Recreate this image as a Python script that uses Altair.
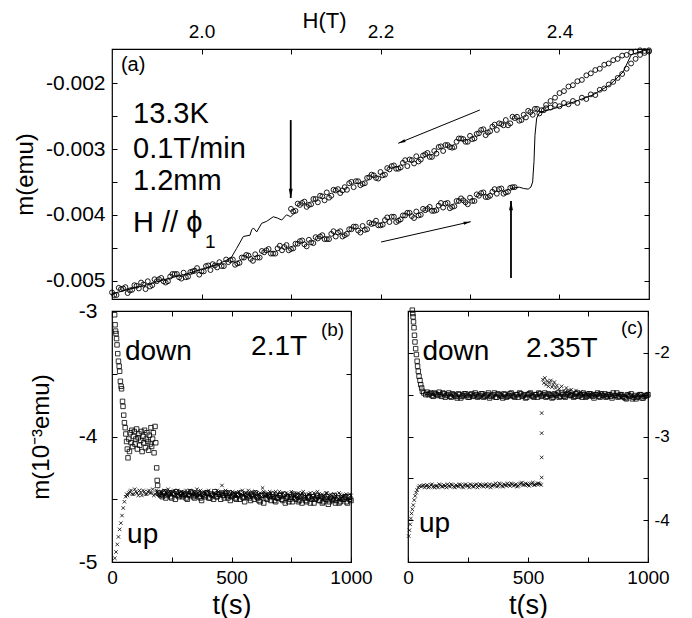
import altair as alt
import pandas as pd

FONT = "Liberation Sans"

# ---------------- panel (a): m(emu) vs H(T) ----------------
a_up1_H = [1.900, 1.905, 1.910, 1.915, 1.920, 1.925, 1.930, 1.935, 1.940, 1.945,
           1.950, 1.955, 1.960, 1.965, 1.970, 1.975, 1.980, 1.985, 1.990, 1.995,
           2.000, 2.005, 2.010, 2.015, 2.020, 2.025, 2.030, 2.035, 2.040, 2.045,
           2.050, 2.055, 2.060, 2.065, 2.070, 2.075, 2.080, 2.085, 2.090, 2.095,
           2.100, 2.105, 2.110, 2.115, 2.120, 2.125, 2.130, 2.135, 2.140, 2.145,
           2.150, 2.155, 2.160, 2.165, 2.170, 2.175, 2.180, 2.185, 2.190, 2.195,
           2.200, 2.205, 2.210, 2.215, 2.220, 2.225, 2.230, 2.235, 2.240, 2.245,
           2.250, 2.255, 2.260, 2.265, 2.270, 2.275, 2.280, 2.285, 2.290, 2.295,
           2.300, 2.305, 2.310, 2.315, 2.320, 2.325, 2.330, 2.335, 2.340, 2.345,
           2.350]
a_up1_m = [-0.00518, -0.00522, -0.00513, -0.00510, -0.00515, -0.00507, -0.00512, -0.00506, -0.00501, -0.00507,
           -0.00501, -0.00496, -0.00503, -0.00494, -0.00490, -0.00495, -0.00488, -0.00494, -0.00486, -0.00481,
           -0.00486, -0.00478, -0.00484, -0.00477, -0.00472, -0.00478, -0.00472, -0.00468, -0.00474, -0.00465,
           -0.00461, -0.00467, -0.00460, -0.00465, -0.00457, -0.00452, -0.00459, -0.00451, -0.00454, -0.00446,
           -0.00452, -0.00444, -0.00440, -0.00445, -0.00438, -0.00443, -0.00436, -0.00431, -0.00437, -0.00429,
           -0.00433, -0.00425, -0.00431, -0.00422, -0.00418, -0.00424, -0.00417, -0.00422, -0.00414, -0.00409,
           -0.00416, -0.00408, -0.00411, -0.00403, -0.00409, -0.00401, -0.00397, -0.00402, -0.00395, -0.00400,
           -0.00393, -0.00388, -0.00394, -0.00386, -0.00389, -0.00382, -0.00388, -0.00379, -0.00375, -0.00381,
           -0.00374, -0.00379, -0.00371, -0.00366, -0.00373, -0.00365, -0.00368, -0.00360, -0.00366, -0.00359,
           -0.00358]
a_up2_H = [1.9025, 1.9125, 1.9225, 1.9325, 1.9425, 1.9525, 1.9625, 1.9725, 1.9825, 1.9925,
           2.0025, 2.0125, 2.0225, 2.0325, 2.0425, 2.0525, 2.0625, 2.0725, 2.0825, 2.0925,
           2.1025, 2.1125, 2.1225, 2.1325, 2.1425, 2.1525, 2.1625, 2.1725, 2.1825, 2.1925,
           2.2025, 2.2125, 2.2225, 2.2325, 2.2425, 2.2525, 2.2625, 2.2725, 2.2825, 2.2925,
           2.3025, 2.3125, 2.3225, 2.3325, 2.3425]
a_up2_m = [-0.00522, -0.00512, -0.00514, -0.00503, -0.00509, -0.00498, -0.00501, -0.00490, -0.00495, -0.00485,
           -0.00486, -0.00475, -0.00478, -0.00469, -0.00473, -0.00462, -0.00465, -0.00454, -0.00459, -0.00449,
           -0.00451, -0.00439, -0.00442, -0.00433, -0.00437, -0.00427, -0.00429, -0.00418, -0.00423, -0.00413,
           -0.00415, -0.00403, -0.00407, -0.00397, -0.00401, -0.00391, -0.00393, -0.00383, -0.00387, -0.00378,
           -0.00379, -0.00367, -0.00371, -0.00361, -0.00365]
a_up3_H = [1.9075, 1.9175, 1.9275, 1.9375, 1.9475, 1.9575, 1.9675, 1.9775, 1.9875, 1.9975,
           2.0075, 2.0175, 2.0275, 2.0375, 2.0475, 2.0575, 2.0675, 2.0775, 2.0875, 2.0975,
           2.1075, 2.1175, 2.1275, 2.1375, 2.1475, 2.1575, 2.1675, 2.1775, 2.1875, 2.1975,
           2.2075, 2.2175, 2.2275, 2.2375, 2.2475, 2.2575, 2.2675, 2.2775, 2.2875, 2.2975,
           2.3075, 2.3175, 2.3275, 2.3375, 2.3475]
a_up3_m = [-0.00511, -0.00519, -0.00508, -0.00513, -0.00498, -0.00501, -0.00490, -0.00497, -0.00487, -0.00491,
           -0.00477, -0.00480, -0.00468, -0.00476, -0.00465, -0.00470, -0.00455, -0.00459, -0.00447, -0.00454,
           -0.00444, -0.00448, -0.00434, -0.00437, -0.00425, -0.00433, -0.00422, -0.00427, -0.00412, -0.00416,
           -0.00404, -0.00411, -0.00401, -0.00405, -0.00391, -0.00394, -0.00382, -0.00390, -0.00379, -0.00384,
           -0.00369, -0.00373, -0.00361, -0.00368, -0.00358]
a_dn1_H = [2.100, 2.105, 2.110, 2.115, 2.120, 2.125, 2.130, 2.135, 2.140, 2.145,
           2.150, 2.155, 2.160, 2.165, 2.170, 2.175, 2.180, 2.185, 2.190, 2.195,
           2.200, 2.205, 2.210, 2.215, 2.220, 2.225, 2.230, 2.235, 2.240, 2.245,
           2.250, 2.255, 2.260, 2.265, 2.270, 2.275, 2.280, 2.285, 2.290, 2.295,
           2.300, 2.305, 2.310, 2.315, 2.320, 2.325, 2.330, 2.335, 2.340, 2.345,
           2.350, 2.355, 2.360, 2.365, 2.370, 2.375, 2.380,
           2.385, 2.390, 2.395, 2.400, 2.405, 2.410, 2.415, 2.420, 2.425, 2.430,
           2.435, 2.440, 2.445, 2.450, 2.455, 2.460, 2.465, 2.470, 2.475, 2.480,
           2.485, 2.490, 2.495, 2.500]
a_dn1_m = [-0.00391, -0.00394, -0.00385, -0.00380, -0.00385, -0.00376, -0.00381, -0.00372, -0.00366, -0.00371,
           -0.00363, -0.00367, -0.00358, -0.00352, -0.00358, -0.00349, -0.00353, -0.00344, -0.00339, -0.00344,
           -0.00335, -0.00339, -0.00331, -0.00325, -0.00330, -0.00321, -0.00326, -0.00317, -0.00311, -0.00316,
           -0.00308, -0.00312, -0.00303, -0.00297, -0.00303, -0.00294, -0.00298, -0.00289, -0.00284, -0.00289,
           -0.00280, -0.00284, -0.00276, -0.00270, -0.00275, -0.00266, -0.00271, -0.00262, -0.00256, -0.00261,
           -0.00253, -0.00257, -0.00248, -0.00242, -0.00248, -0.00239, -0.00241,
           -0.00233, -0.00227, -0.00222, -0.00215, -0.00212, -0.00205, -0.00203, -0.00197, -0.00195, -0.00188,
           -0.00185, -0.00180, -0.00178, -0.00172, -0.00170, -0.00165, -0.00163, -0.00158, -0.00157, -0.00153,
           -0.00152, -0.00150, -0.00151, -0.00150]
a_dn2_H = [2.1025, 2.1125, 2.1225, 2.1325, 2.1425, 2.1525, 2.1625, 2.1725, 2.1825, 2.1925,
           2.2025, 2.2125, 2.2225, 2.2325, 2.2425, 2.2525, 2.2625, 2.2725, 2.2825, 2.2925,
           2.3025, 2.3125, 2.3225, 2.3325, 2.3425, 2.3525, 2.3625, 2.3725, 2.3825,
           2.385, 2.390, 2.395, 2.400, 2.405, 2.410, 2.415, 2.420, 2.425, 2.430,
           2.435, 2.440, 2.445, 2.450, 2.455, 2.460, 2.465, 2.470, 2.475, 2.480,
           2.485, 2.490, 2.495, 2.500]
a_dn2_m = [-0.00395, -0.00382, -0.00384, -0.00371, -0.00374, -0.00361, -0.00362, -0.00349, -0.00352, -0.00340,
           -0.00340, -0.00326, -0.00328, -0.00316, -0.00319, -0.00306, -0.00307, -0.00294, -0.00297, -0.00285,
           -0.00285, -0.00271, -0.00273, -0.00261, -0.00264, -0.00251, -0.00252, -0.00239, -0.00241,
           -0.00238, -0.00237, -0.00233, -0.00235, -0.00230, -0.00232, -0.00227, -0.00230, -0.00222, -0.00224,
           -0.00217, -0.00218, -0.00210, -0.00208, -0.00202, -0.00198, -0.00192, -0.00186, -0.00178, -0.00170,
           -0.00163, -0.00157, -0.00154, -0.00152]
a_dn3_H = [2.1075, 2.1175, 2.1275, 2.1375, 2.1475, 2.1575, 2.1675, 2.1775, 2.1875, 2.1975,
           2.2075, 2.2175, 2.2275, 2.2375, 2.2475, 2.2575, 2.2675, 2.2775, 2.2875, 2.2975,
           2.3075, 2.3175, 2.3275, 2.3375, 2.3475, 2.3575, 2.3675, 2.3775]
a_dn3_m = [-0.00383, -0.00388, -0.00376, -0.00378, -0.00362, -0.00363, -0.00350, -0.00355, -0.00343, -0.00345,
           -0.00329, -0.00330, -0.00317, -0.00322, -0.00310, -0.00312, -0.00296, -0.00297, -0.00284, -0.00289,
           -0.00277, -0.00279, -0.00263, -0.00264, -0.00251, -0.00256, -0.00244, -0.00246]
a_lndn_H = [2.105, 2.0996, 2.095, 2.0896, 2.085, 2.0802, 2.0728, 2.0672, 2.0617, 2.058, 2.056, 2.0542,
            2.0467, 2.0393, 2.0337, 2.0282, 2.02, 2.00, 1.98, 1.96, 1.94, 1.92, 1.90]
a_lndn_m = [-0.00396, -0.00403, -0.00400, -0.00408, -0.00405, -0.00403, -0.00410, -0.00413, -0.00426, -0.00420,
            -0.00423, -0.00431, -0.00433, -0.00451, -0.00464, -0.00469, -0.00474, -0.00483, -0.00491, -0.00498,
            -0.00506, -0.00513, -0.00520]
a_lnup_H = [2.345, 2.350, 2.355, 2.360, 2.365, 2.368, 2.370, 2.3715, 2.3726, 2.3745, 2.378, 2.390, 2.400,
            2.417, 2.437, 2.456, 2.471, 2.480, 2.494, 2.500]
a_lnup_m = [-0.00360, -0.00359, -0.00358, -0.00360, -0.00361, -0.00358, -0.00350, -0.00319, -0.00279, -0.00253,
            -0.00244, -0.00240, -0.00236, -0.00228, -0.00218, -0.00203, -0.00183, -0.00157, -0.00150, -0.00149]
arr_H1 = [2.0997, 2.3458, 2.311, 2.2006]
arr_m1 = [-0.00256, -0.00496, -0.002407, -0.004414]
arr_H2 = [2.0997, 2.3458, 2.2199, 2.3008]
arr_m2 = [-0.003745, -0.00379, -0.002913, -0.004105]
arr_angle = [180, 0, 248, 77]
a_txt = ["(a)", "13.3K", "0.1T/min", "1.2mm", "H // \u03d5", "1"]
a_txt_H = [1.910, 1.9235, 1.9235, 1.9235, 1.9235, 2.0039]
a_txt_m = [-0.00182, -0.002609, -0.003142, -0.003623, -0.004257, -0.00451]
a_txt_fs = [20, 29, 29, 29, 29, 19]
a_xticks = [2.0, 2.1, 2.2, 2.3, 2.4]
a_yticks = [-0.005, -0.0045, -0.004, -0.0035, -0.003, -0.0025, -0.002]

# ---------------- panel (b): 2.1T ----------------
b_up_t = [12, 17, 22, 27, 32, 37, 42, 47, 52, 57, 62,
          70, 80, 90, 100, 110, 120, 130, 140, 150, 160, 170, 180, 190, 200, 210, 220, 230, 240, 250,
          260, 270, 280, 290, 300, 310, 320, 330, 340, 350, 360, 370, 380, 390, 400, 410, 420, 430, 440,
          450, 460, 470, 480, 490, 500, 510, 520, 530, 540, 550, 560, 570, 580, 590, 600, 610, 620, 630,
          640, 650, 660, 670, 680, 690, 700, 710, 720, 730, 740, 750, 760, 770, 780, 790, 800, 810, 820,
          830, 840, 850, 860, 870, 880, 890, 900, 910, 920, 930, 940, 950, 960, 970, 980, 990, 1000]
b_up_m = [-4.97, -4.92, -4.86, -4.80, -4.74, -4.69, -4.63, -4.57, -4.52, -4.48, -4.46,
          -4.45, -4.43, -4.46, -4.44, -4.47, -4.45, -4.43, -4.46, -4.44, -4.45, -4.42, -4.46, -4.44, -4.47,
          -4.45, -4.43, -4.46, -4.44, -4.46, -4.43, -4.47, -4.45, -4.44, -4.46, -4.43, -4.45, -4.47, -4.44,
          -4.46, -4.45, -4.43, -4.47, -4.45, -4.44, -4.46, -4.48, -4.45, -4.43, -4.46, -4.39, -4.45, -4.47,
          -4.44, -4.46, -4.45, -4.48, -4.44, -4.46, -4.47, -4.45, -4.43, -4.47, -4.46, -4.44, -4.48, -4.45,
          -4.41, -4.47, -4.46, -4.44, -4.48, -4.45, -4.47, -4.44, -4.46, -4.48, -4.45, -4.47, -4.44, -4.46,
          -4.49, -4.45, -4.47, -4.44, -4.48, -4.46, -4.45, -4.49, -4.47, -4.44, -4.48, -4.46, -4.49, -4.45,
          -4.47, -4.50, -4.46, -4.48, -4.45, -4.49, -4.47, -4.46, -4.49, -4.47]
b_up2_t = [65, 75, 85, 95, 105, 115, 125, 135, 145, 155, 165, 175, 185, 195, 205, 215, 225, 235, 245, 255,
           265, 275, 285, 295, 305, 315, 325, 335, 345, 355, 365, 375, 385, 395, 405, 415, 425, 435, 445, 455,
           465, 475, 485, 495, 505, 515, 525, 535, 545, 555, 565, 575, 585, 595, 605, 615, 625, 635, 645, 655,
           665, 675, 685, 695, 705, 715, 725, 735, 745, 755, 765, 775, 785, 795, 805, 815, 825, 835, 845, 855,
           865, 875, 885, 895, 905, 915, 925, 935, 945, 955, 965, 975, 985, 995]
b_up2_m = [-4.47, -4.44, -4.46, -4.42, -4.45, -4.43, -4.47, -4.44, -4.46, -4.43,
           -4.45, -4.47, -4.43, -4.46, -4.44, -4.47, -4.45, -4.42, -4.46, -4.44,
           -4.46, -4.43, -4.47, -4.45, -4.44, -4.47, -4.43, -4.46, -4.45, -4.42,
           -4.47, -4.45, -4.44, -4.46, -4.43, -4.47, -4.45, -4.46, -4.44, -4.47,
           -4.45, -4.43, -4.46, -4.48, -4.44, -4.46, -4.45, -4.47, -4.43, -4.46,
           -4.48, -4.45, -4.44, -4.47, -4.45, -4.46, -4.48, -4.44, -4.46, -4.47,
           -4.45, -4.48, -4.44, -4.46, -4.49, -4.45, -4.47, -4.46, -4.48, -4.45,
           -4.47, -4.46, -4.49, -4.45, -4.47, -4.48, -4.46, -4.47, -4.45, -4.49,
           -4.46, -4.48, -4.47, -4.45, -4.49, -4.46, -4.48, -4.47, -4.50, -4.46,
           -4.48, -4.47, -4.50, -4.46]
b_dn_t = [11, 13, 15, 17, 19, 21, 24, 27, 30, 32, 35, 38, 40, 44, 46, 49, 52, 55, 58, 61, 64, 67,
          70, 73, 76, 80, 83, 86, 90, 93, 96, 100, 103, 106, 110, 113, 116, 120, 123, 126, 130, 133, 136,
          140, 143, 146, 150, 153, 156, 160, 163, 166, 170, 173, 176, 180, 183,
          187, 189, 191, 195,
          200, 210, 220, 230, 240, 250, 260, 270, 280, 290, 300, 310, 320, 330, 340, 350, 360, 370, 380,
          390, 400, 410, 420, 430, 440, 450, 460, 470, 480, 490, 500, 510, 520, 530, 540, 550, 560, 570,
          580, 590, 600, 610, 620, 630, 640, 650, 660, 670, 680, 690, 700, 710, 720, 730, 740, 750, 760,
          770, 780, 790, 800, 810, 820, 830, 840, 850, 860, 870, 880, 890, 900, 910, 920, 930, 940, 950,
          960, 970, 980, 990, 1000]
b_dn_m = [-3.03, -3.11, -3.16, -3.18, -3.22, -3.27, -3.34, -3.40, -3.44, -3.48, -3.56, -3.60, -3.62, -3.72,
          -3.76, -3.83, -3.89, -3.93, -3.98, -4.04, -4.10, -4.17,
          -4.02, -4.12, -3.97, -4.05, -3.95, -4.08, -4.00, -3.96, -4.06, -4.02, -3.94, -4.10, -4.01, -3.98,
          -4.07, -4.03, -3.96, -4.12, -4.00, -4.05, -3.95, -4.09, -4.02, -3.97, -4.04, -4.11, -3.99, -4.06,
          -3.93, -4.08, -4.02, -3.97, -4.13, -3.92, -4.05,
          -4.25, -4.35, -4.39, -4.45,
          -4.46, -4.48, -4.44, -4.47, -4.45, -4.49, -4.46, -4.44, -4.48, -4.46, -4.47, -4.49, -4.46, -4.44,
          -4.48, -4.47, -4.45, -4.49, -4.46, -4.48, -4.45, -4.49, -4.47, -4.44, -4.48, -4.46, -4.45, -4.49,
          -4.47, -4.45, -4.48, -4.46, -4.50, -4.47, -4.45, -4.49, -4.46, -4.48, -4.51, -4.47, -4.45, -4.49,
          -4.52, -4.47, -4.46, -4.50, -4.48, -4.46, -4.51, -4.49, -4.47, -4.50, -4.46, -4.49, -4.52, -4.48,
          -4.46, -4.50, -4.52, -4.48, -4.47, -4.51, -4.49, -4.53, -4.48, -4.50, -4.47, -4.51, -4.53, -4.49,
          -4.48, -4.52, -4.50, -4.47, -4.51, -4.53, -4.49, -4.50, -4.52, -4.48, -4.51]
b_dn2_t = [205, 215, 225, 235, 245, 255, 265, 275, 285, 295, 305, 315, 325, 335, 345, 355, 365, 375, 385, 395,
           405, 415, 425, 435, 445, 455, 465, 475, 485, 495, 505, 515, 525, 535, 545, 555, 565, 575, 585, 595,
           605, 615, 625, 635, 645, 655, 665, 675, 685, 695, 705, 715, 725, 735, 745, 755, 765, 775, 785, 795,
           805, 815, 825, 835, 845, 855, 865, 875, 885, 895, 905, 915, 925, 935, 945, 955, 965, 975, 985, 995]
b_dn2_m = [-4.47, -4.45, -4.49, -4.46, -4.48, -4.45, -4.50, -4.47, -4.45, -4.48,
           -4.46, -4.50, -4.47, -4.45, -4.49, -4.46, -4.48, -4.51, -4.47, -4.45,
           -4.49, -4.46, -4.50, -4.48, -4.46, -4.50, -4.47, -4.45, -4.49, -4.51,
           -4.47, -4.49, -4.46, -4.50, -4.48, -4.52, -4.47, -4.49, -4.46, -4.50,
           -4.48, -4.51, -4.47, -4.53, -4.49, -4.47, -4.51, -4.48, -4.52, -4.49,
           -4.47, -4.51, -4.53, -4.48, -4.50, -4.52, -4.49, -4.47, -4.51, -4.53,
           -4.49, -4.52, -4.48, -4.50, -4.53, -4.49, -4.51, -4.48, -4.52, -4.50,
           -4.54, -4.49, -4.51, -4.53, -4.49, -4.52, -4.50, -4.48, -4.53, -4.50]
b_txt = ["down", "2.1T", "(b)", "up"]
b_txt_t = [54, 582, 874, 63]
b_txt_m = [-3.39, -3.35, -3.197, -4.85]
b_txt_fs = [28, 28, 19, 28]
b_yticks = [-5, -4.5, -4, -3.5, -3]

# ---------------- panel (c): 2.35T ----------------
c_up_t = [3, 6, 9, 12, 15, 18, 22, 26, 30, 34, 38, 43, 48,
          55, 65, 75, 85, 95, 105, 115, 125, 135, 145, 155, 165, 175, 185, 195, 205, 215, 225, 235, 245,
          255, 265, 275, 285, 295, 305, 315, 325, 335, 345, 355, 365, 375, 385, 395, 405, 415, 425, 435,
          445, 455, 465, 475, 485, 495, 505, 515, 525, 535, 545, 555,
          557, 557, 557, 557,
          562, 566, 570, 575, 580, 585, 590, 595, 600, 605, 610, 615, 620, 630, 640, 650, 660, 670, 680,
          690, 700, 710, 720, 730, 740, 750, 760, 780, 800, 820, 840, 860, 880, 900, 920, 940, 960, 980, 1000]
c_up_m = [-4.19, -4.12, -4.05, -3.98, -3.92, -3.87, -3.82, -3.76, -3.71, -3.67, -3.64, -3.61, -3.59,
          -3.60, -3.58, -3.59, -3.61, -3.58, -3.60, -3.59, -3.61, -3.58, -3.60, -3.59, -3.57, -3.60, -3.58,
          -3.61, -3.59, -3.57, -3.60, -3.58, -3.59, -3.61, -3.58, -3.60, -3.57, -3.59, -3.58, -3.60, -3.57,
          -3.59, -3.61, -3.58, -3.56, -3.59, -3.57, -3.60, -3.58, -3.56, -3.59, -3.57, -3.58, -3.60, -3.57,
          -3.55, -3.58, -3.57, -3.59, -3.56, -3.58, -3.57, -3.56, -3.58,
          -3.49, -3.25, -2.96, -2.72,
          -2.32, -2.36, -2.30, -2.38, -2.34, -2.40, -2.36, -2.33, -2.41, -2.38, -2.35, -2.42, -2.39, -2.43,
          -2.40, -2.45, -2.42, -2.46, -2.44, -2.47, -2.45, -2.49, -2.47, -2.50, -2.48, -2.51, -2.49, -2.50,
          -2.48, -2.51, -2.49, -2.52, -2.50, -2.51, -2.49, -2.52, -2.50, -2.51, -2.49]
c_up2_t = [60, 70, 80, 90, 100, 110, 120, 130, 140, 150, 160, 170, 180, 190, 200, 210, 220, 230, 240, 250,
           260, 270, 280, 290, 300, 310, 320, 330, 340, 350, 360, 370, 380, 390, 400, 410, 420, 430, 440, 450,
           460, 470, 480, 490, 500, 510, 520, 530, 540, 550]
c_up2_m = [-3.59, -3.61, -3.58, -3.60, -3.57, -3.61, -3.59, -3.57, -3.60, -3.58,
           -3.61, -3.59, -3.57, -3.60, -3.58, -3.60, -3.58, -3.61, -3.57, -3.59,
           -3.57, -3.60, -3.58, -3.61, -3.57, -3.59, -3.58, -3.60, -3.57, -3.59,
           -3.58, -3.60, -3.56, -3.59, -3.57, -3.59, -3.58, -3.56, -3.59, -3.57,
           -3.59, -3.56, -3.58, -3.56, -3.58, -3.57, -3.55, -3.58, -3.56, -3.57]
c_dn_t = [18, 20, 21, 23, 25, 27, 29, 32, 35, 38, 40, 43, 46, 50, 53, 57, 60, 66, 74,
          80, 90, 100, 110, 120, 130, 140, 150, 160, 170, 180, 190, 200, 210, 220, 230, 240, 250, 260,
          270, 280, 290, 300, 310, 320, 330, 340, 350, 360, 370, 380, 390, 400, 410, 420, 430, 440, 450,
          460, 470, 480, 490, 500, 510, 520, 530, 540, 550, 560, 570, 580, 590, 600, 610, 620, 630, 640,
          650, 660, 670, 680, 690, 700, 710, 720, 730, 740, 750, 760, 770, 780, 790, 800, 810, 820, 830,
          840, 850, 860, 870, 880, 890, 900, 910, 920, 930, 940, 950, 960, 970, 980, 990, 1000]
c_dn_m = [-1.49, -1.53, -1.57, -1.63, -1.70, -1.79, -1.87, -1.95, -2.02, -2.10, -2.16, -2.22, -2.28, -2.33,
          -2.38, -2.42, -2.46, -2.48, -2.50,
          -2.47, -2.49, -2.51, -2.48, -2.50, -2.47, -2.52, -2.49, -2.51, -2.48, -2.53, -2.50, -2.52, -2.49,
          -2.54, -2.51, -2.49, -2.53, -2.50, -2.52, -2.48, -2.53, -2.51, -2.49, -2.52, -2.50, -2.54, -2.51,
          -2.48, -2.53, -2.50, -2.52, -2.49, -2.53, -2.51, -2.48, -2.52, -2.50, -2.53, -2.49, -2.51, -2.54,
          -2.50, -2.48, -2.52, -2.50, -2.53, -2.49, -2.51, -2.48, -2.52, -2.50, -2.54, -2.49, -2.51, -2.53,
          -2.48, -2.52, -2.50, -2.47, -2.51, -2.53, -2.49, -2.52, -2.50, -2.48, -2.53, -2.51, -2.49, -2.52,
          -2.50, -2.48, -2.53, -2.51, -2.49, -2.52, -2.50, -2.54, -2.51, -2.48, -2.52, -2.50, -2.53, -2.55,
          -2.51, -2.49, -2.53, -2.55, -2.52, -2.50, -2.54, -2.51, -2.50]
c_dn2_t = [85, 95, 105, 115, 125, 135, 145, 155, 165, 175, 185, 195, 205, 215, 225, 235, 245, 255, 265, 275,
           285, 295, 305, 315, 325, 335, 345, 355, 365, 375, 385, 395, 405, 415, 425, 435, 445, 455, 465, 475,
           485, 495, 505, 515, 525, 535, 545, 555, 565, 575, 585, 595, 605, 615, 625, 635, 645, 655, 665, 675,
           685, 695, 705, 715, 725, 735, 745, 755, 765, 775, 785, 795, 805, 815, 825, 835, 845, 855, 865, 875,
           885, 895, 905, 915, 925, 935, 945, 955, 965, 975, 985, 995]
c_dn2_m = [-2.50, -2.48, -2.52, -2.49, -2.51, -2.50, -2.48, -2.53, -2.50, -2.52,
           -2.49, -2.51, -2.54, -2.50, -2.52, -2.49, -2.51, -2.53, -2.49, -2.51,
           -2.50, -2.52, -2.49, -2.53, -2.51, -2.48, -2.52, -2.50, -2.53, -2.49,
           -2.51, -2.54, -2.50, -2.52, -2.49, -2.51, -2.53, -2.50, -2.48, -2.52,
           -2.50, -2.53, -2.49, -2.51, -2.53, -2.50, -2.48, -2.52, -2.50, -2.53,
           -2.49, -2.51, -2.53, -2.50, -2.48, -2.52, -2.50, -2.53, -2.49, -2.51,
           -2.50, -2.52, -2.48, -2.51, -2.53, -2.50, -2.52, -2.49, -2.51, -2.54,
           -2.50, -2.52, -2.49, -2.51, -2.53, -2.50, -2.52, -2.48, -2.51, -2.53,
           -2.50, -2.52, -2.54, -2.50, -2.52, -2.55, -2.51, -2.53, -2.50, -2.54,
           -2.52, -2.51]
c_txt = ["down", "2.35T", "(c)", "up"]
c_txt_t = [60, 492, 887, 46]
c_txt_m = [-2.083, -2.044, -1.777, -4.146]
c_txt_fs = [28, 28, 19, 28]
c_yticks = [-4, -3.5, -3, -2.5, -2]
t_ticks = [0, 250, 500, 750, 1000]

# ---------------- helpers ----------------
TK = 5
CROSS = "M-1,-1L1,1M-1,1L1,-1"
HEAD = "M0,0L0.5,2.4L-0.5,2.4Z"
MINUS = "replace(format(datum.value, '{f}'), '\u2212', '-')"


def ax(orient, values, labels=False, title=None, **kw):
    return alt.Axis(orient=orient, values=values, labels=labels, ticks=True, tickSize=TK,
                    offset=-TK, domain=False, grid=False, tickColor="black", tickWidth=1,
                    labelColor="black", labelFont=FONT, titleFont=FONT, titleColor="black",
                    titleFontWeight="normal", labelFlush=False, labelOverlap=False, title=title, **kw)


def txt_layer(texts, xs, ys, fss, xsc, ysc):
    d = pd.DataFrame({"x": xs, "y": ys, "t": texts, "fs": fss})
    return alt.Chart(d).mark_text(font=FONT, align="left", baseline="alphabetic", color="black").encode(
        x=alt.X("x:Q", scale=xsc, axis=None),
        y=alt.Y("y:Q", scale=ysc, axis=None),
        text="t:N",
        size=alt.Size("fs:Q", scale=None, legend=None),
    )


def pts(d, shape, size, xenc, yenc, sw=0.8):
    return alt.Chart(d).mark_point(shape=shape, filled=False, size=size, color="black",
                                   strokeWidth=sw, opacity=1).encode(x=xenc, y=yenc)


# ---------------- panel (a) ----------------
xa = alt.Scale(domain=[1.9, 2.5], nice=False, zero=False)
ya = alt.Scale(domain=[-0.00528, -0.00148], nice=False, zero=False)

circ = pd.DataFrame({"H": a_up1_H + a_up2_H + a_up3_H + a_dn1_H + a_dn2_H + a_dn3_H,
                     "m": a_up1_m + a_up2_m + a_up3_m + a_dn1_m + a_dn2_m + a_dn3_m})
lines = pd.DataFrame({"H": a_lndn_H + a_lnup_H, "m": a_lndn_m + a_lnup_m,
                      "seg": ["dn"] * len(a_lndn_H) + ["up"] * len(a_lnup_H)})
arrows = pd.DataFrame({"H1": arr_H1, "m1": arr_m1, "H2": arr_H2, "m2": arr_m2, "ang": arr_angle,
                       "w": [1.8, 1.8, 1.0, 1.0], "s": [60, 60, 36, 36]})

a_circ = pts(circ, "circle", 24,
             alt.X("H:Q", scale=xa, axis=ax("bottom", a_xticks)),
             alt.Y("m:Q", scale=ya, axis=ax(
                 "left", a_yticks, labels=True, labelFontSize=21, labelPadding=7,
                 labelExpr="round(datum.value*10000) % 10 == 0 ? " + MINUS.format(f=".3f") + " : ''",
                 title="m(emu)", titleFontSize=24, titleX=-92, titleAngle=270, titleBaseline="middle")),
             sw=0.9)
a_lines = alt.Chart(lines).mark_line(color="black", strokeWidth=1).encode(
    x=alt.X("H:Q", scale=xa, axis=ax(
        "top", a_xticks, labels=True, labelFontSize=19, labelPadding=8,
        labelExpr="round(datum.value*10) % 2 == 0 ? format(datum.value, '.1f') : ''",
        title="H(T)", titleFontSize=22, titleX=212, titleY=-34, titleBaseline="middle",
        titleAlign="center")),
    y=alt.Y("m:Q", scale=ya, axis=ax("right", a_yticks)),
    detail="seg:N",
)
a_shaft = alt.Chart(arrows).mark_rule(color="black").encode(
    x=alt.X("H1:Q", scale=xa, axis=None), x2="H2:Q",
    y=alt.Y("m1:Q", scale=ya, axis=None), y2="m2:Q",
    strokeWidth=alt.StrokeWidth("w:Q", scale=None, legend=None),
)
a_head = alt.Chart(arrows).mark_point(shape=HEAD, filled=True, color="black", opacity=1).encode(
    x=alt.X("H2:Q", scale=xa, axis=None),
    y=alt.Y("m2:Q", scale=ya, axis=None),
    angle=alt.Angle("ang:Q", scale=None),
    size=alt.Size("s:Q", scale=None, legend=None),
)
a_text = txt_layer(a_txt, a_txt_H, a_txt_m, a_txt_fs, xa, ya)

panel_a = alt.layer(a_circ, a_lines, a_shaft, a_head, a_text).resolve_axis(
    x="independent", y="independent").properties(width=537, height=250)

# ---------------- panel (b) ----------------
xb = alt.Scale(domain=[0, 1000], nice=False, zero=False)
yb = alt.Scale(domain=[-5, -3], nice=False, zero=False)
bu = pd.DataFrame({"t": b_up_t + b_up2_t, "m": b_up_m + b_up2_m})
bd = pd.DataFrame({"t": b_dn_t + b_dn2_t, "m": b_dn_m + b_dn2_m})

b_up = pts(bu, CROSS, 12,
           alt.X("t:Q", scale=xb, axis=ax(
               "bottom", t_ticks, labels=True, labelFontSize=19, labelPadding=6,
               labelExpr="datum.value % 500 == 0 ? format(datum.value, 'd') : ''",
               title="t(s)", titleFontSize=27, titleY=48, titleBaseline="middle")),
           alt.Y("m:Q", scale=yb, axis=ax(
               "left", b_yticks, labels=True, labelFontSize=21, labelPadding=15,
               labelExpr="datum.value % 1 == 0 ? " + MINUS.format(f="d") + " : ''",
               title="m(10\u207b\u00b3emu)", titleFontSize=24, titleX=-76, titleAngle=270,
               titleBaseline="middle")))
b_dn = pts(bd, "square", 20,
           alt.X("t:Q", scale=xb, axis=ax("top", t_ticks)),
           alt.Y("m:Q", scale=yb, axis=ax("right", b_yticks)))
b_text = txt_layer(b_txt, b_txt_t, b_txt_m, b_txt_fs, xb, yb)
panel_b = alt.layer(b_up, b_dn, b_text).resolve_axis(
    x="independent", y="independent").properties(width=239, height=251)

# ---------------- panel (c) ----------------
yc = alt.Scale(domain=[-4.5, -1.5], nice=False, zero=False)
cu = pd.DataFrame({"t": c_up_t + c_up2_t, "m": c_up_m + c_up2_m})
cd = pd.DataFrame({"t": c_dn_t + c_dn2_t, "m": c_dn_m + c_dn2_m})

c_up = pts(cu, CROSS, 12,
           alt.X("t:Q", scale=xb, axis=ax(
               "bottom", t_ticks, labels=True, labelFontSize=19, labelPadding=6,
               labelExpr="datum.value % 500 == 0 ? format(datum.value, 'd') : ''",
               title="t(s)", titleFontSize=27, titleY=48, titleBaseline="middle")),
           alt.Y("m:Q", scale=yc, axis=ax(
               "right", c_yticks, labels=True, labelFontSize=17, labelPadding=6,
               labelExpr="datum.value % 1 == 0 ? " + MINUS.format(f="d") + " : ''")))
c_dn = pts(cd, "square", 20,
           alt.X("t:Q", scale=xb, axis=ax("top", t_ticks)),
           alt.Y("m:Q", scale=yc, axis=ax("left", c_yticks)))
c_text = txt_layer(c_txt, c_txt_t, c_txt_m, c_txt_fs, xb, yc)
panel_c = alt.layer(c_up, c_dn, c_text).resolve_axis(
    x="independent", y="independent").properties(width=240, height=251)

bottom = alt.hconcat(panel_b, panel_c, spacing=57, bounds="flush")
chart = alt.vconcat(panel_a, bottom, spacing=12, bounds="flush").properties(
    padding={"left": 4, "top": 0, "right": 2, "bottom": 0}
).configure(font=FONT, background="white").configure_view(stroke="black", strokeWidth=1.2)

chart.save("out.html", embed_options={"renderer": "svg", "actions": False})
